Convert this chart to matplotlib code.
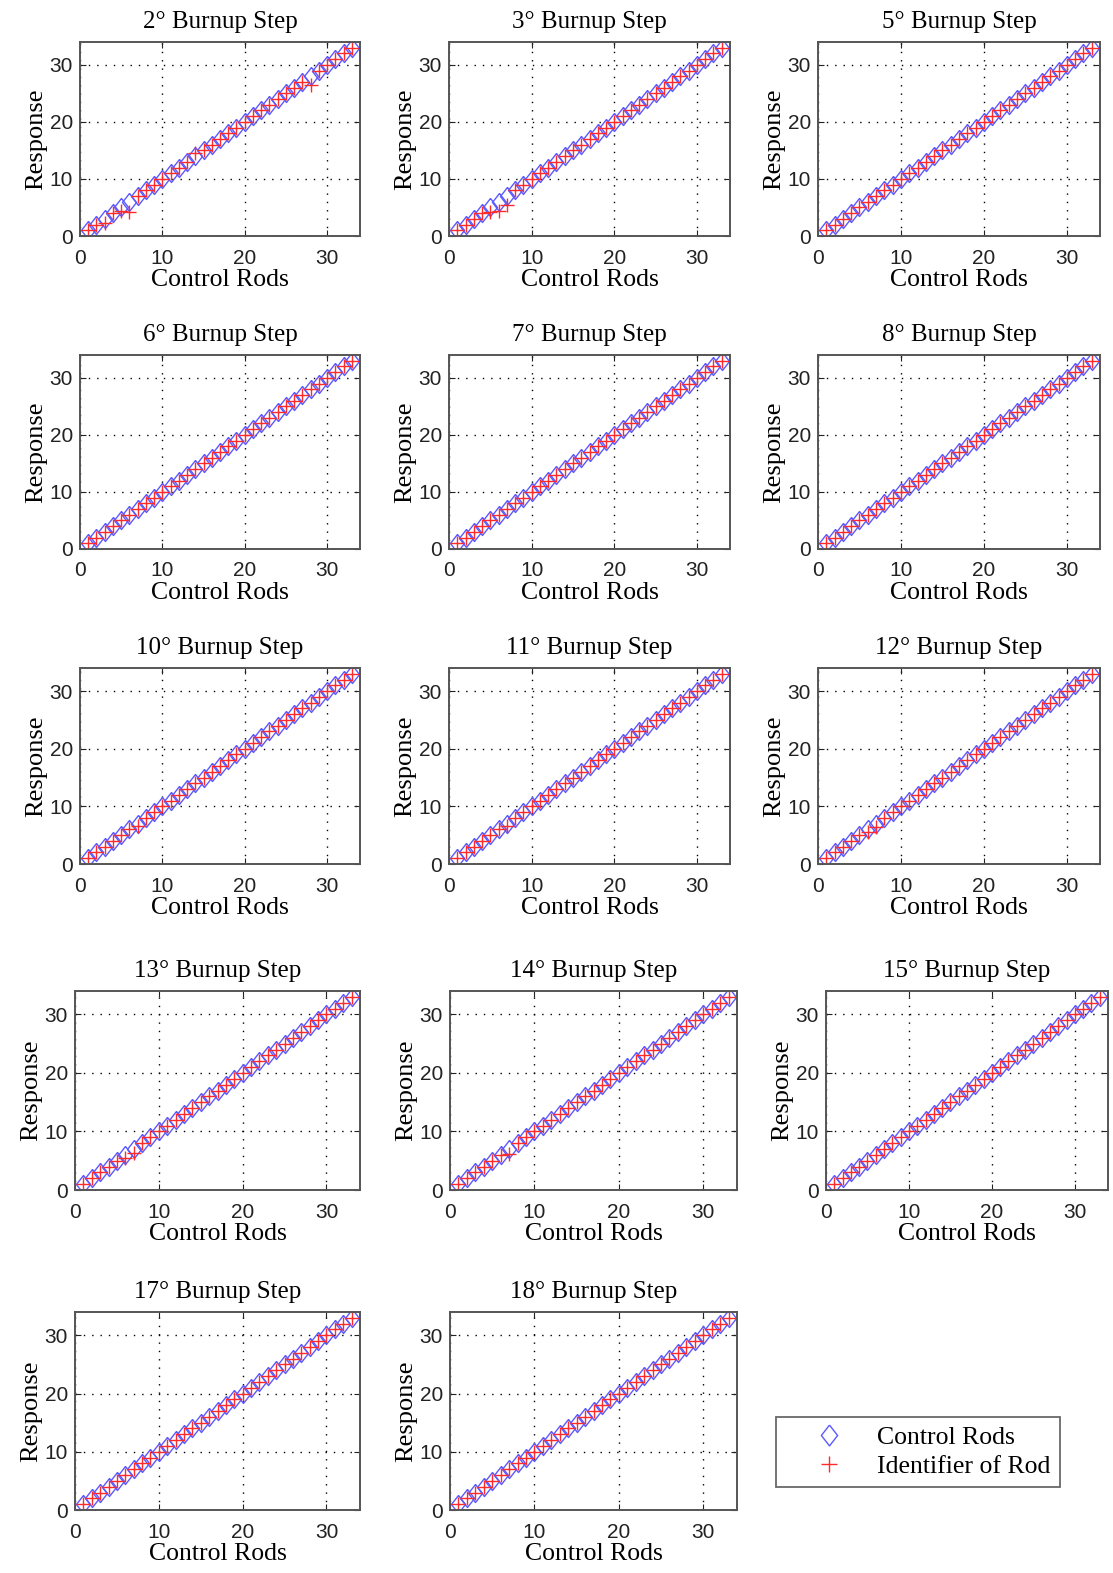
import matplotlib
matplotlib.use('Agg')
import matplotlib.pyplot as plt
from matplotlib.lines import Line2D

# ---------------- data ----------------
rods = [1, 2, 3, 4, 5, 6, 7, 8, 9, 10, 11, 12, 13, 14, 15, 16, 17, 18, 19, 20,
        21, 22, 23, 24, 25, 26, 27, 28, 29, 30, 31, 32, 33]
control_response = [1, 2, 3, 4, 5, 6, 7, 8, 9, 10, 11, 12, 13, 14, 15, 16, 17, 18, 19, 20,
                    21, 22, 23, 24, 25, 26, 27, 28, 29, 30, 31, 32, 33]

step_titles = ['2° Burnup Step', '3° Burnup Step', '5° Burnup Step',
               '6° Burnup Step', '7° Burnup Step', '8° Burnup Step',
               '10° Burnup Step', '11° Burnup Step', '12° Burnup Step',
               '13° Burnup Step', '14° Burnup Step', '15° Burnup Step',
               '17° Burnup Step', '18° Burnup Step']

id_step2 = [1, 2, 2.3, 4, 4.3, 4.2, 7, 8, 9, 10, 11, 12, 13, 14.5, 15, 16, 17, 18, 19, 20,
            21, 22, 23, 24, 25, 26, 27, 26.5, 29, 30, 31, 32, 33]
id_step3 = [1, 2, 3, 4, 4.2, 4.3, 5.5, 8, 9, 10, 11, 12, 13, 14, 15, 16, 17, 18, 19, 20,
            21, 22, 23, 24, 25, 26, 27, 28, 29, 30, 31, 32, 33]
id_step5 = [1, 2, 3, 4, 5, 6, 7, 8, 9, 10, 11, 12, 13, 14, 15, 16, 17, 18, 19, 20,
            21, 22, 23, 24, 25, 26, 27, 28, 29, 30, 31, 32, 33]
id_step6 = [1, 2, 3, 4, 5, 6, 7, 8, 9, 10, 11, 12, 13, 14, 15, 16, 17, 18, 19, 20,
            21, 22, 23, 24, 25, 26, 27, 28, 29, 30, 31, 32, 33]
id_step7 = [1, 2, 3, 4, 5, 6, 7, 8, 9, 10, 11, 12, 13, 14, 15, 16, 17, 18, 19, 20,
            21, 22, 23, 24, 25, 26, 27, 28, 29, 30, 31, 32, 33]
id_step8 = [1, 2, 3, 4, 5, 6, 7, 8, 9, 10, 11, 12, 13, 14, 15, 16, 17, 18, 19, 20,
            21, 22, 23, 24, 25, 26, 27, 28, 29, 30, 31, 32, 33]
id_step10 = [1, 2, 3, 4, 5, 6, 6.6, 8, 9, 10, 11, 12, 13, 14, 15, 16, 17, 18, 19, 20,
             21, 22, 23, 24, 25, 26, 27, 28, 29, 30, 31, 32, 33]
id_step11 = [1, 2, 3, 4, 5, 6, 6.6, 8, 9, 10, 11, 12, 13, 14, 15, 16, 17, 18, 19, 20,
             21, 22, 23, 24, 25, 26, 27, 28, 29, 30, 31, 32, 33]
id_step12 = [1, 2, 3, 4, 5, 5.6, 6.4, 8, 9, 10, 11, 12, 13, 14, 15, 16, 17, 18, 19, 20,
             21, 22, 23, 24, 25, 26, 27, 28, 29, 30, 31, 32, 33]
id_step13 = [1, 2, 3, 4, 5, 5.5, 6.3, 8, 9, 10, 11, 12, 13, 14, 15, 16, 17, 18, 19, 20,
             21, 22, 23, 24, 25, 26, 27, 28, 29, 30, 31, 32, 33]
id_step14 = [1, 2, 3, 4, 5, 6, 6.2, 8, 9, 10, 11, 12, 13, 14, 15, 16, 17, 18, 19, 20,
             21, 22, 23, 24, 25, 26, 27, 28, 29, 30, 31, 32, 33]
id_step15 = [1, 2, 3, 4, 5, 6, 7, 8, 9, 10, 11, 12, 13, 14, 15, 16, 17, 18, 19, 20,
             21, 22, 23, 24, 25, 26, 27, 28, 29, 30, 31, 32, 33]
id_step17 = [1, 2, 3, 4, 5, 6, 7, 8, 9, 10, 11, 12, 13, 14, 15, 16, 17, 18, 19, 20,
             21, 22, 23, 24, 25, 26, 27, 28, 29, 30, 31, 32, 33]
id_step18 = [1, 2, 3, 4, 5, 6, 7, 8, 9, 10, 11, 12, 13, 14, 15, 16, 17, 18, 19, 20,
             21, 22, 23, 24, 25, 26, 27, 28, 29, 30, 31, 32, 33]

identifiers = [id_step2, id_step3, id_step5, id_step6, id_step7, id_step8,
               id_step10, id_step11, id_step12, id_step13, id_step14, id_step15,
               id_step17, id_step18]

ticks = [0, 10, 20, 30]
tick_labels = ['0', '10', '20', '30']
xlabel = 'Control Rods'
ylabel = 'Response'
legend_labels = ['Control Rods', 'Identifier of Rod']

# ---------------- layout (pixel boxes: left, top, right, bottom) ----------------
W, H = 1113, 1573
boxes = [
    (80, 42, 360, 236), (449, 42, 730, 236), (818, 42, 1100, 236),
    (80, 355, 360, 549), (449, 355, 730, 549), (818, 355, 1100, 549),
    (80, 668, 360, 864), (449, 668, 730, 864), (818, 668, 1100, 864),
    (75, 991, 360, 1190), (450, 991, 737, 1190), (826, 991, 1108, 1190),
    (75, 1312, 360, 1510), (450, 1312, 737, 1510),
]

serif = ['Liberation Serif', 'DejaVu Serif']
sans = ['Liberation Sans', 'DejaVu Sans']

diamond = [(0, 1), (0.78, 0), (0, -1), (-0.78, 0), (0, 1)]

fig = plt.figure(figsize=(W / 100, H / 100), dpi=100)
fig.patch.set_facecolor('white')

blue = '#5a5aff'
red = '#ff2a2a'

for title, ident, (l, t, r, b) in zip(step_titles, identifiers, boxes):
    ax = fig.add_axes([l / W, 1 - b / H, (r - l) / W, (b - t) / H])
    ax.plot(rods, control_response, linestyle='none', marker=diamond, markersize=13,
            markerfacecolor='none', markeredgecolor=blue, markeredgewidth=1.0)
    ax.plot(rods, ident, linestyle='none', marker='+', markersize=10,
            color=red, markeredgewidth=1.0)
    ax.set_xlim(0, 34)
    ax.set_ylim(0, 34)
    ax.set_xticks(ticks)
    ax.set_yticks(ticks)
    ax.set_xticklabels(tick_labels, fontfamily=sans, fontsize=15)
    ax.set_yticklabels(tick_labels, fontfamily=sans, fontsize=15)
    ax.tick_params(direction='in', length=4, width=0.8, top=True, right=True,
                   colors='#222222')
    ax.tick_params(axis='x', pad=9)
    ax.tick_params(axis='y', pad=5)
    ax.grid(True, color='black', linestyle=(0, (1, 5)), linewidth=1.0)
    for s in ax.spines.values():
        s.set_color('#555555')
        s.set_linewidth(1.4)
    ax.set_title(title, fontfamily=serif, fontsize=18, pad=10)
    ax.set_xlabel(xlabel, fontfamily=serif, fontsize=18.5, labelpad=1)
    ax.set_ylabel(ylabel, fontfamily=serif, fontsize=19, labelpad=2)

handles = [
    Line2D([], [], linestyle='none', marker=diamond, markersize=15,
           markerfacecolor='none', markeredgecolor=blue, markeredgewidth=1.0),
    Line2D([], [], linestyle='none', marker='+', markersize=12,
           color=red, markeredgewidth=1.0),
]
leg = fig.legend(handles, legend_labels,
                 loc='upper left',
                 bbox_to_anchor=(776 / W, 1 - 1417 / H),
                 prop={'family': serif, 'size': 18.5},
                 frameon=True, fancybox=False, edgecolor='#444444',
                 borderpad=0.35, labelspacing=0.25, handletextpad=0.2,
                 handlelength=3.4, borderaxespad=0)
leg.get_frame().set_linewidth(1.3)

fig.savefig('out.png', dpi=100, facecolor='white')
